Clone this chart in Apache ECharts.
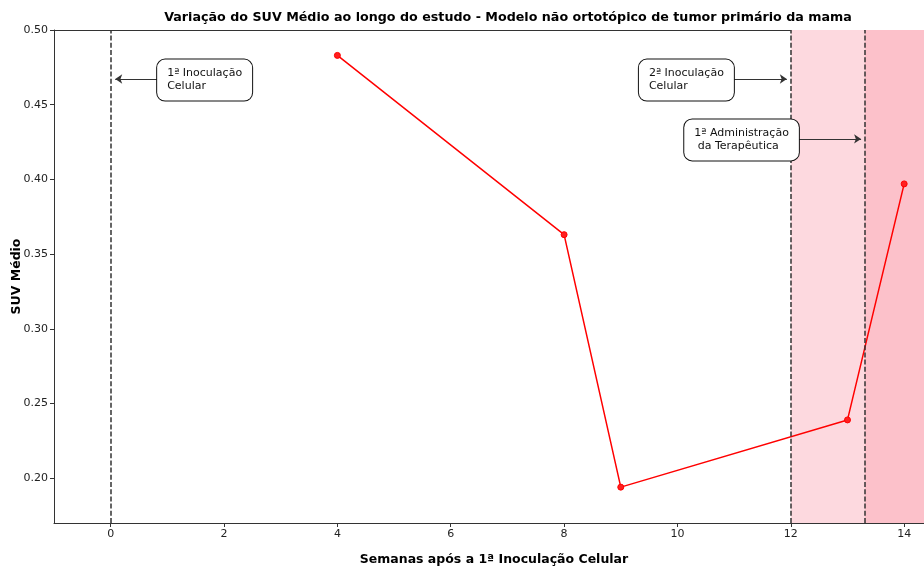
<!DOCTYPE html>
<html>
<head>
<meta charset="utf-8">
<script src="https://cdn.jsdelivr.net/npm/echarts@6/dist/echarts.min.js"></script>
<style>
  html, body { margin: 0; padding: 0; background: #fff; }
  #chart { width: 924px; height: 568px; }
</style>
</head>
<body>
<div id="chart"></div>
<script>
// Weeks after the first cell inoculation and the mean SUV measured at each scan
const weeks = [4, 8, 9, 13, 14];
const suvMean = [0.483, 0.363, 0.194, 0.239, 0.397];

// Tick values shown on each axis
const xTicks = [0, 2, 4, 6, 8, 10, 12, 14];
const yTicks = [0.20, 0.25, 0.30, 0.35, 0.40, 0.45, 0.50];

// Study events (week) marked with dashed vertical lines
const eventWeeks = [0, 12, 13.3];

// Shaded study phases [start, end]
const phaseStarts = [12, 13.3];
const phaseEnds = [13.3, 14.35];
const phaseColors = ['#fdd9df', '#fcc1ca'];

// Annotation boxes: text, box left-middle anchor (week, SUV), arrow start and arrow tip
const noteTexts = ['1ª Inoculação\nCelular', '2ª Inoculação\nCelular', '1ª Administração\n da Terapêutica'];
const noteBoxX = [0.82, 9.32, 10.12];
const noteBoxY = [0.4665, 0.4665, 0.4264];
const arrowFromX = [0.82, 11.0, 12.13];
const arrowToX = [0.08, 11.93, 13.24];
const arrowY = [0.4672, 0.4672, 0.4271];

const FONT = 'DejaVu Sans';

const chart = echarts.init(document.getElementById('chart'), null, { renderer: 'canvas' });

const lineData = weeks.map((w, i) => [w, suvMean[i]]);

const eventLines = eventWeeks.map(w => ({
  xAxis: w,
  lineStyle: { type: [5, 2.2], color: '#333', width: 1.5 }
}));

const arrowLines = noteTexts.map((t, i) => ([
  { coord: [arrowFromX[i], arrowY[i]], symbol: 'none', lineStyle: { type: 'solid', color: '#333', width: 1 } },
  { coord: [arrowToX[i], arrowY[i]], symbol: 'arrow', symbolSize: 7 }
]));

const phaseAreas = phaseStarts.map((s, i) => ([
  { xAxis: s, itemStyle: { color: phaseColors[i] } },
  { xAxis: phaseEnds[i] }
]));

const noteBoxes = noteTexts.map((t, i) => ({
  coord: [noteBoxX[i], noteBoxY[i]],
  value: t
}));

chart.setOption({
  animation: false,
  backgroundColor: '#fff',
  textStyle: { fontFamily: FONT },
  title: {
    text: 'Variação do SUV Médio ao longo do estudo - Modelo não ortotópico de tumor primário da mama',
    left: 503,
    textAlign: 'center',
    top: 6,
    textStyle: { fontFamily: FONT, fontSize: 12.7, fontWeight: 'bold', color: '#000' }
  },
  grid: { left: 54, right: 0, top: 30, bottom: 45, outerBoundsMode: 'none', containLabel: false },
  xAxis: [{
    type: 'value',
    min: -1,
    max: 14.35,
    name: 'Semanas após a 1ª Inoculação Celular',
    nameLocation: 'middle',
    nameGap: 30,
    nameMoveOverlap: false,
    nameTextStyle: { fontFamily: FONT, fontSize: 12.5, fontWeight: 'bold', color: '#000', padding: [0, 0, 0, 10] },
    splitLine: { show: false },
    axisLine: { show: true, onZero: false, lineStyle: { color: '#333', width: 1 } },
    axisTick: { show: true, length: 4, customValues: xTicks, lineStyle: { color: '#333' } },
    axisLabel: { customValues: xTicks, fontFamily: FONT, fontSize: 11, color: '#222', margin: 6 }
  }, {
    type: 'value',
    position: 'top',
    min: -1,
    max: 14.35,
    splitLine: { show: false },
    axisLine: { show: true, onZero: false, lineStyle: { color: '#333', width: 1 } },
    axisTick: { show: false },
    axisLabel: { show: false }
  }],
  yAxis: {
    type: 'value',
    min: 0.17,
    max: 0.50,
    name: 'SUV Médio',
    nameLocation: 'middle',
    nameGap: 31,
    nameMoveOverlap: false,
    nameTextStyle: { fontFamily: FONT, fontSize: 12.5, fontWeight: 'bold', color: '#000' },
    splitLine: { show: false },
    axisLine: { show: true, onZero: false, lineStyle: { color: '#333', width: 1 } },
    axisTick: { show: true, length: 4, customValues: yTicks, lineStyle: { color: '#333' } },
    axisLabel: {
      customValues: yTicks,
      fontFamily: FONT, fontSize: 11, color: '#222', margin: 6,
      formatter: v => v.toFixed(2)
    }
  },
  series: [{
    // shaded phases, event lines and annotation arrows
    type: 'line',
    data: [],
    silent: true,
    z: 1,
    markArea: { silent: true, data: phaseAreas },
    markLine: {
      silent: true,
      symbol: 'none',
      label: { show: false },
      data: eventLines.concat(arrowLines)
    }
  }, {
    // measured SUV values
    type: 'line',
    data: lineData,
    z: 3,
    symbol: 'circle',
    symbolSize: 6,
    lineStyle: { color: '#ff0000', width: 1.5 },
    itemStyle: { color: '#ff2020', borderColor: '#ff0000', borderWidth: 1 }
  }, {
    // annotation text boxes
    type: 'line',
    data: [],
    z: 4,
    markPoint: {
      silent: true,
      symbol: 'rect',
      symbolSize: 0,
      data: noteBoxes,
      label: {
        show: true,
        position: 'inside',
        formatter: p => p.value,
        fontFamily: FONT,
        fontSize: 11,
        lineHeight: 13,
        color: '#111',
        align: 'left',
        backgroundColor: '#fff',
        borderColor: '#111',
        borderWidth: 1,
        borderRadius: 8,
        padding: [8, 10, 7, 10]
      }
    }
  }]
});
</script>
</body>
</html>
